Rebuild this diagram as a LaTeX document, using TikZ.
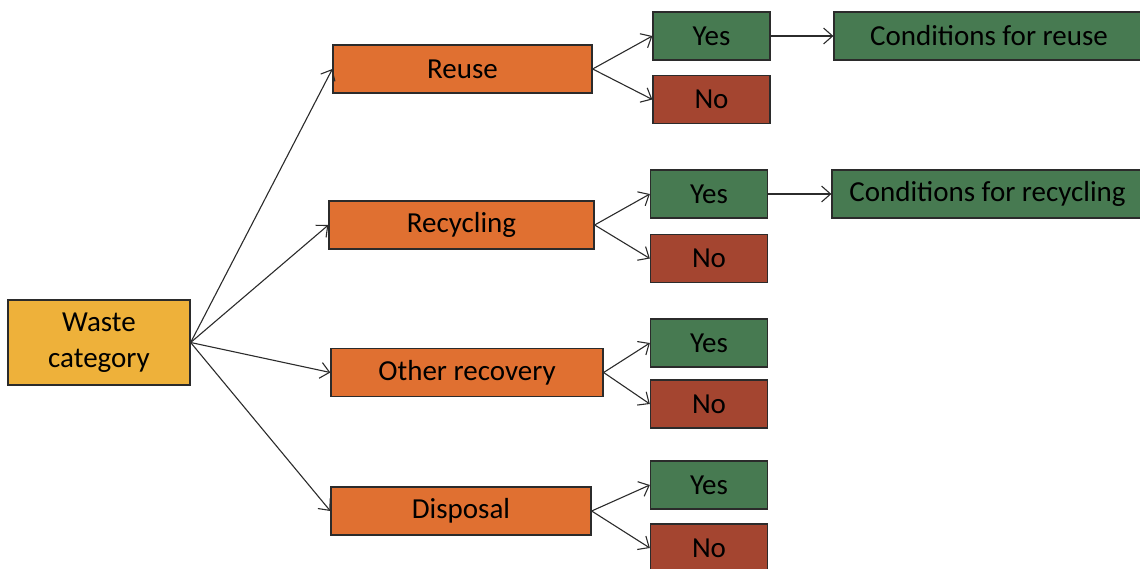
\documentclass[tikz,border=0pt]{standalone}
\usepackage{fontspec}
\setmainfont{Carlito}
\usepackage{tikz}
\usetikzlibrary{arrows.meta}
\definecolor{wasteyellow}{HTML}{EEB13A}
\definecolor{routeorange}{HTML}{E07031}
\definecolor{yesgreen}{HTML}{477A51}
\definecolor{nored}{HTML}{A44530}
\definecolor{edgegray}{HTML}{2B2B2B}

\begin{document}
\begin{tikzpicture}[
    x=1pt, y=-1pt,
    every node/.style={font=\fontsize{29}{36}\selectfont},
    root/.style={
        rectangle,
        draw=edgegray,
        fill=wasteyellow,
        line width=1.3pt,
        minimum width=182pt,
        minimum height=85pt,
        inner sep=0pt,
        align=center
    },
    route/.style={
        rectangle,
        draw=edgegray,
        fill=routeorange,
        line width=1.3pt,
        minimum height=48pt,
        inner sep=0pt
    },
    yesbox/.style={
        rectangle,
        draw=edgegray,
        fill=yesgreen,
        line width=1.3pt,
        minimum width=117pt,
        minimum height=48pt,
        inner sep=0pt
    },
    nobox/.style={yesbox, fill=nored},
    cond/.style={yesbox, minimum width=310pt},
    arrow/.style={line width=1.1pt, draw=edgegray, -{Straight Barb[length=9pt, width=16pt, line width=1.1pt]}}
]

\clip (0,0) rectangle (1140,569);

% Root
\node[root] (waste) at (99,342.5) {Waste\\category};

% Treatment routes
\node[route, minimum width=259pt] (reuse) at (462.5,69) {Reuse};
\node[route, minimum width=265pt] (recycling) at (461.5,225) {Recycling};
\node[route, minimum width=272pt] (other) at (467,372.5) {Other recovery};
\node[route, minimum width=260pt] (disposal) at (461,511) {Disposal};

% Root arrows
\draw[arrow] (waste.east) -- (reuse.west);
\draw[arrow] (waste.east) -- (recycling.west);
\draw[arrow] (waste.east) -- (other.west);
\draw[arrow] (waste.east) -- (disposal.west);

% Yes / No answers
\node[yesbox] (reuseyes) at (711.5,36) {Yes};
\node[nobox] (reuseno) at (711.5,99.5) {No};
\node[yesbox] (recyclingyes) at (709,194) {Yes};
\node[nobox] (recyclingno) at (709,258.5) {No};
\node[yesbox] (otheryes) at (709,343) {Yes};
\node[nobox] (otherno) at (709,404) {No};
\node[yesbox] (disposalyes) at (709,485) {Yes};
\node[nobox] (disposalno) at (709,548) {No};

% Conditions
\node[cond] (reusecond) at (989,36) {Conditions for reuse};
\node[cond, minimum width=311pt] (recyclingcond) at (987.5,194) {Conditions for recycling};

% Arrows for answers
\draw[arrow] (reuse.east) -- (reuseyes.west);
\draw[arrow] (reuse.east) -- (reuseno.west);
\draw[arrow] (recycling.east) -- (recyclingyes.west);
\draw[arrow] (recycling.east) -- (recyclingno.west);
\draw[arrow] (other.east) -- (otheryes.west);
\draw[arrow] (other.east) -- (otherno.west);
\draw[arrow] (disposal.east) -- (disposalyes.west);
\draw[arrow] (disposal.east) -- (disposalno.west);

\draw[arrow] (reuseyes) -- (reusecond);
\draw[arrow] (recyclingyes) -- (recyclingcond);

\end{tikzpicture}
\end{document}
